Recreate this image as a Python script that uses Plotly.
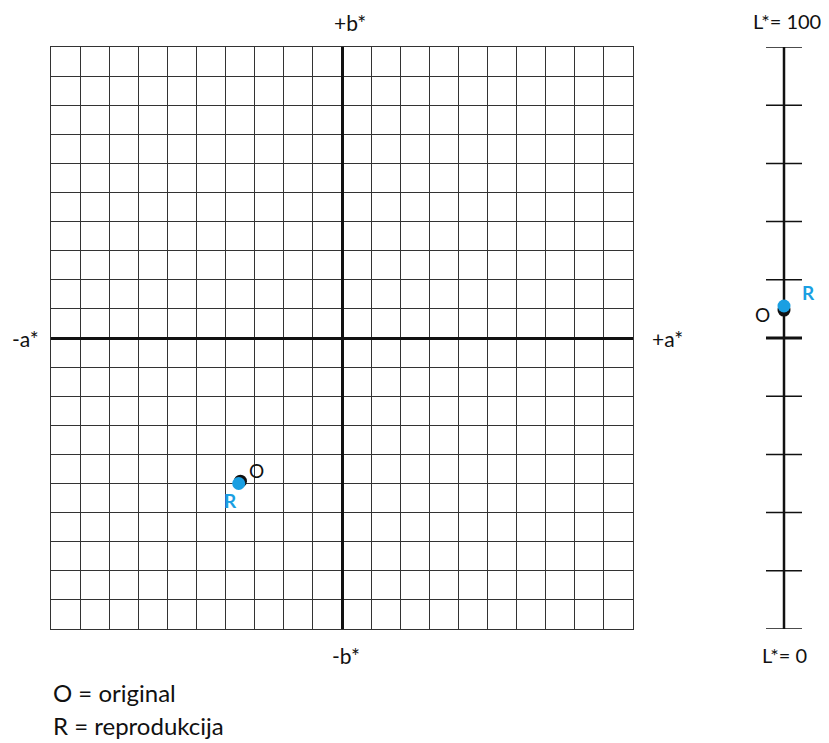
import plotly.graph_objects as go

# a*/b* plane, grid cells of 1 unit from -10 to 10
grid_range = [-10, 10]

# point positions (grid units)
ab_labels = ["O", "R"]
ab_a = [-3.49, -3.55]
ab_b = [-4.92, -5.0]

# L* axis
l_ticks = [0, 10, 20, 30, 40, 60, 70, 80, 90, 100]
l_mid = [50]
l_labels = ["O", "R"]
l_values = [54.8, 55.5]

BLACK = "#111111"
BLUE = "#1a9fe2"
GRID = "#333333"
FONT = "Lato"

# the page puts the figure 8px in from the top-left corner
OFF = 8
W, H = 829 - 2 * OFF, 743 - OFF


def px(x):
    return (x - OFF) / W


def py(y):
    return 1 - (y - OFF) / H


fig = go.Figure()

# ── a*/b* points ──────────────────────────────────────────────
fig.add_trace(go.Scatter(
    x=[ab_a[0]], y=[ab_b[0]], mode="markers",
    marker=dict(color=BLACK, size=13), xaxis="x", yaxis="y",
    hoverinfo="skip",
))
fig.add_trace(go.Scatter(
    x=[ab_a[1]], y=[ab_b[1]], mode="markers",
    marker=dict(color=BLUE, size=13), xaxis="x", yaxis="y",
    hoverinfo="skip",
))

# ── L* axis: spine, ticks and points ─────────────────────────
fig.add_trace(go.Scatter(
    x=[0, 0], y=[l_ticks[0], l_ticks[-1]], mode="lines",
    line=dict(color=BLACK, width=2.5), xaxis="x2", yaxis="y2",
    hoverinfo="skip",
))
fig.add_trace(go.Scatter(
    x=[0] * len(l_ticks), y=l_ticks, mode="markers",
    marker=dict(symbol="line-ew", size=29, line=dict(color=BLACK, width=1.5)),
    xaxis="x2", yaxis="y2", hoverinfo="skip",
))
fig.add_trace(go.Scatter(
    x=[0], y=l_mid, mode="markers",
    marker=dict(symbol="line-ew", size=29, line=dict(color=BLACK, width=3)),
    xaxis="x2", yaxis="y2", hoverinfo="skip",
))
fig.add_trace(go.Scatter(
    x=[0], y=[l_values[0]], mode="markers",
    marker=dict(color=BLACK, size=13), xaxis="x2", yaxis="y2",
    hoverinfo="skip",
))
fig.add_trace(go.Scatter(
    x=[0], y=[l_values[1]], mode="markers",
    marker=dict(color=BLUE, size=13), xaxis="x2", yaxis="y2",
    hoverinfo="skip",
))

ann = []
txt = dict(family=FONT, size=21, color=BLACK)
ltxt = dict(family=FONT, size=20, color=BLACK)
# axis end labels
ann += [
    dict(x=0, y=10, xref="x", yref="y", text="+b*", showarrow=False,
         yshift=24, xshift=8, font=txt),
    dict(x=0, y=-10, xref="x", yref="y", text="-b*", showarrow=False,
         yshift=-26, xshift=4, font=txt),
    dict(x=-10, y=0, xref="x", yref="y", text="-a*", showarrow=False,
         xshift=-26, font=txt),
    dict(x=10, y=0, xref="x", yref="y", text="+a*", showarrow=False,
         xshift=34, font=txt),
    dict(x=0, y=100, xref="x2", yref="y2", text="L*= 100", showarrow=False,
         yshift=26, xshift=3, font=ltxt),
    dict(x=0, y=0, xref="x2", yref="y2", text="L*= 0", showarrow=False,
         yshift=-26, font=ltxt),
]
# point labels
ann += [
    dict(x=ab_a[0], y=ab_b[0], xref="x", yref="y", text=ab_labels[0],
         showarrow=False, xshift=16, yshift=11, font=dict(family=FONT, size=19, color=BLACK)),
    dict(x=ab_a[1], y=ab_b[1], xref="x", yref="y", text="<b>" + ab_labels[1] + "</b>",
         showarrow=False, xshift=-8, yshift=-17,
         font=dict(family=FONT, size=19, color=BLUE)),
    dict(x=0, y=l_values[0], xref="x2", yref="y2", text=l_labels[0],
         showarrow=False, xshift=-22, yshift=-4, font=dict(family=FONT, size=19, color=BLACK)),
    dict(x=0, y=l_values[1], xref="x2", yref="y2", text="<b>" + l_labels[1] + "</b>",
         showarrow=False, xshift=24, yshift=13,
         font=dict(family=FONT, size=19, color=BLUE)),
]
# key
leg = dict(family=FONT, size=24, color=BLACK)
ann += [
    dict(x=px(51), y=py(692), xref="paper", yref="paper",
         text="O = original", showarrow=False, xanchor="left",
         yanchor="middle", font=leg),
    dict(x=px(51), y=py(725), xref="paper", yref="paper",
         text="R = reprodukcija", showarrow=False, xanchor="left",
         yanchor="middle", font=leg),
]

grid_axis = dict(
    range=grid_range, dtick=1, tick0=0,
    showgrid=True, gridcolor=GRID, gridwidth=1.4,
    zeroline=True, zerolinecolor=BLACK, zerolinewidth=3,
    showline=True, mirror=True, linecolor=GRID, linewidth=1.4,
    showticklabels=False, ticks="", fixedrange=True,
)

fig.update_layout(
    width=W, height=H, autosize=False,
    margin=dict(l=0, r=0, t=0, b=0),
    paper_bgcolor="white", plot_bgcolor="white",
    showlegend=False,
    xaxis=dict(domain=[px(51), px(633)], **grid_axis),
    yaxis=dict(domain=[py(629), py(47)], **grid_axis),
    xaxis2=dict(domain=[px(766), px(802)], range=[-1, 1], visible=False,
                fixedrange=True),
    yaxis2=dict(domain=[py(629), py(47)], range=[0, 100],
                visible=False, anchor="x2", fixedrange=True),
    annotations=ann,
)

fig.write_html("out.html")
